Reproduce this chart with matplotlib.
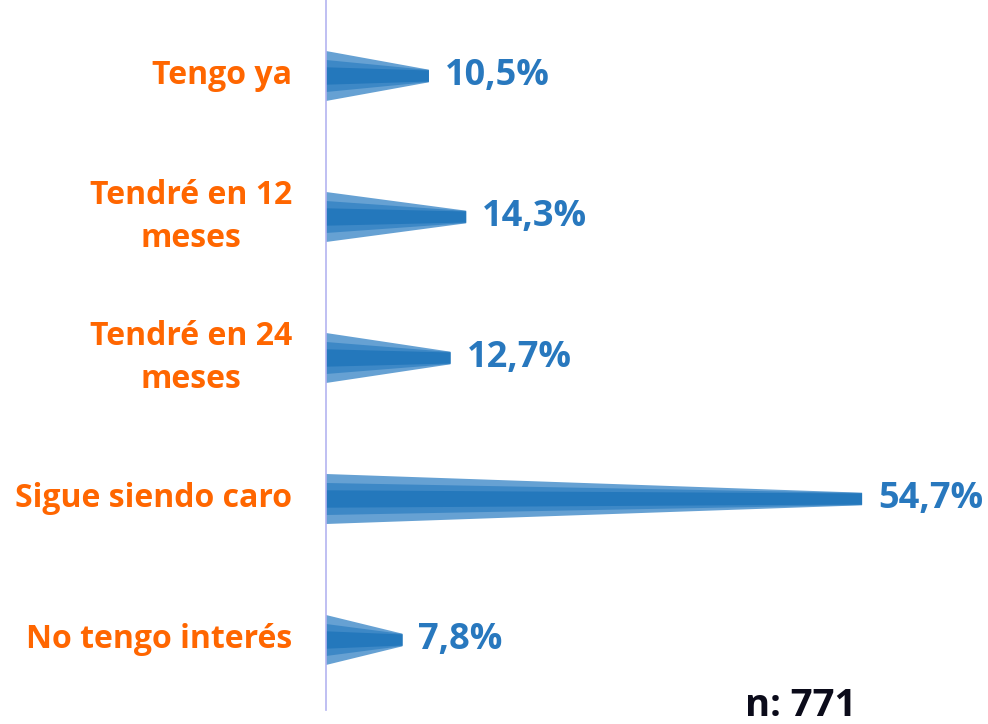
import matplotlib.pyplot as plt

# Data
categories = ["Tengo ya", "Tendré en 12\nmeses", "Tendré en 24\nmeses",
              "Sigue siendo caro", "No tengo interés"]
values = [10.5, 14.3, 12.7, 54.7, 7.8]
value_labels = ["10,5%", "14,3%", "12,7%", "54,7%", "7,8%"]
sample_note = "n: 771"

plt.rcParams['font.family'] = ['Open Sans', 'DejaVu Sans']

fig = plt.figure(figsize=(9.88, 7.24), dpi=100)
W, H = 988, 724
x0_px = 326
px_per_pct = 9.8
row0_px = 76
row_step = 141

ax = fig.add_axes([x0_px / W, 0, 1 - x0_px / W, 1])
ax.set_xlim(0, (W - x0_px) / px_per_pct)
ax.set_ylim((H - row0_px) / row_step, -row0_px / row_step)
ax.axis('off')

# cone layers: (base half height, tip half height, colour), in row units
layers = [
    (25 / row_step, 6.3 / row_step, '#66A1D3'),
    (16 / row_step, 6.0 / row_step, '#3D88C6'),
    (8.7 / row_step, 5.5 / row_step, '#2478BC'),
]

for i, (v, lab) in enumerate(zip(values, value_labels)):
    for hb, ht, c in layers:
        ax.fill([0, v, v, 0], [i - hb, i - ht, i + ht, i + hb], color=c, lw=0)
    ax.text(v + 16 / px_per_pct, i, lab, color='#2878BE', fontsize=26,
            fontweight='bold', va='center', ha='left')
    ax.text(-34 / px_per_pct, i, categories[i], color='#FF6600', fontsize=23,
            fontweight='bold', va='center', ha='right', multialignment='center',
            linespacing=1.37, clip_on=False)

ax.plot([0, 0], [-row0_px / row_step, (710 - row0_px) / row_step],
        color='#B4B4F0', lw=1.2, clip_on=False)

fig.text(745 / W, (H - 716) / H, sample_note, color='#0B0B1A', fontsize=27.5,
         fontweight='bold', ha='left', va='baseline')

fig.savefig('out.png', dpi=100)
